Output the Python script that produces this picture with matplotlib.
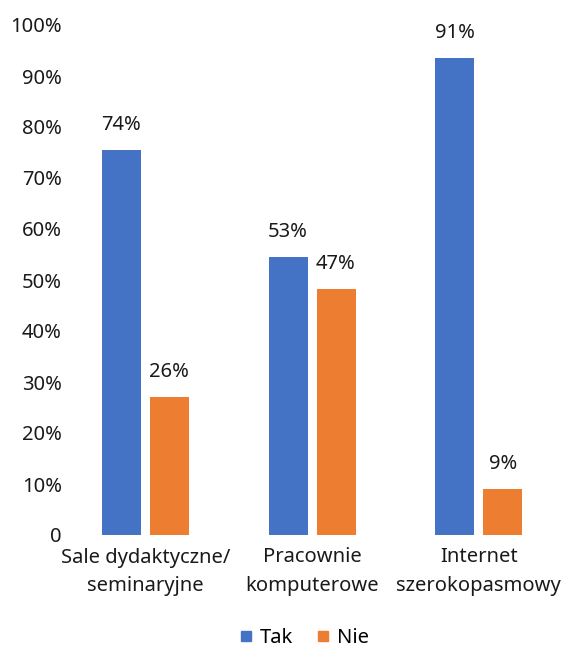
import matplotlib.pyplot as plt
import numpy as np
from matplotlib.lines import Line2D

plt.rcParams['font.family'] = ['Noto Sans', 'DejaVu Sans']

categories = ['Sale dydaktyczne/\nseminaryjne', 'Pracownie\nkomputerowe', 'Internet\nszerokopasmowy']
tak_values = [75.5, 54.5, 93.5]
nie_values = [27.0, 48.2, 9.0]
tak_labels = ['74%', '53%', '91%']
nie_labels = ['26%', '47%', '9%']
yticks = [0, 10, 20, 30, 40, 50, 60, 70, 80, 90, 100]
ytick_labels = ['0'] + [f'{v}%' for v in yticks[1:]]

blue = '#4472C4'
orange = '#ED7D31'
fs = 14.5

fig = plt.figure(figsize=(5.62, 6.53), dpi=100)
ax = fig.add_axes([62 / 562, (653 - 535) / 653, 500 / 562, 510 / 653])

x = np.arange(len(categories))
w = 0.234
gap = 0.054
b1 = ax.bar(x - (w + gap) / 2, tak_values, width=w, color=blue)
b2 = ax.bar(x + (w + gap) / 2, nie_values, width=w, color=orange)

for bars, labels in [(b1, tak_labels), (b2, nie_labels)]:
    for bar, lab in zip(bars, labels):
        ax.annotate(lab, (bar.get_x() + bar.get_width() / 2, bar.get_height()),
                    xytext=(0, 18), textcoords='offset points',
                    ha='center', va='center', fontsize=fs, color='#1a1a1a')

ax.set_xlim(-0.5, 2.5)
ax.set_ylim(0, 100)
ax.set_yticks(yticks)
ax.set_yticklabels(ytick_labels)
ax.set_xticks(x)
ax.set_xticklabels(categories, linespacing=1.55)
ax.tick_params(axis='both', length=0, labelsize=fs, colors='#1a1a1a')
ax.tick_params(axis='y', pad=0)
ax.tick_params(axis='x', pad=9)
for s in ax.spines.values():
    s.set_visible(False)

handles = [Line2D([], [], marker='s', linestyle='none', color=blue, markersize=6.5),
           Line2D([], [], marker='s', linestyle='none', color=orange, markersize=6.5)]
fig.legend(handles, ['Tak', 'Nie'], loc='lower center', ncol=2, frameon=False,
           bbox_to_anchor=(0.54, -0.02), fontsize=fs, handlelength=0.8,
           handletextpad=0.3, columnspacing=1.1)

fig.savefig('out.png', dpi=100)
